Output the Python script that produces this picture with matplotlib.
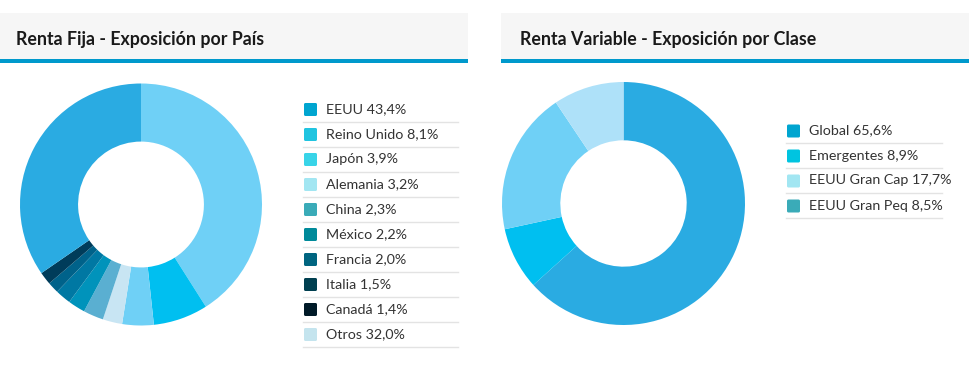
import matplotlib
matplotlib.use("Agg")
import matplotlib.pyplot as plt
from matplotlib.patches import Rectangle, FancyBboxPatch

plt.rcParams['font.family'] = ['Lato', 'DejaVu Sans']

# datos (leyenda)
pais_labels = ["EEUU", "Reino Unido", "Japón", "Alemania", "China",
               "México", "Francia", "Italia", "Canadá", "Otros"]
pais_values = [43.4, 8.1, 3.9, 3.2, 2.3, 2.2, 2.0, 1.5, 1.4, 32.0]
# porcentajes que dibuja el donut (leidos del grafico, no cuadran del todo con la leyenda)
pais_slices = [41.0, 7.3, 4.2, 2.6, 2.7, 2.3, 2.1, 1.5, 1.7, 34.6]
pais_pie_colors = ["#6fd0f6", "#00bff0", "#6fd0f6", "#c8e5f3", "#5aafd1",
                   "#0093bb", "#0078a3", "#00628a", "#003c5a", "#2aabe2"]
pais_leg_colors = ["#00a5d0", "#20c4e0", "#38d4e8", "#a2e6f2", "#3aabb8",
                   "#008a9a", "#006580", "#003f50", "#001a28", "#c4e4ee"]

clase_labels = ["Global", "Emergentes", "EEUU Gran Cap", "EEUU Gran Peq"]
clase_values = [65.6, 8.9, 17.7, 8.5]
clase_slices = [63.3, 8.3, 19.0, 9.4]
clase_pie_colors = ["#2aabe2", "#00bff0", "#6fd0f6", "#aee1f9"]
clase_leg_colors = ["#00a5d0", "#00c4e0", "#a2e6f2", "#3aabb8"]

W, H = 970, 385
fig = plt.figure(figsize=(W / 100, H / 100), dpi=100)
fig.patch.set_facecolor("white")

# capa de fondo en pixeles
bg = fig.add_axes([0, 0, 1, 1])
bg.set_xlim(0, W)
bg.set_ylim(H, 0)
bg.axis("off")


def fmt(v):
    return f"{v:.1f}".replace(".", ",") + "%"


def panel(x0, x1, tx, title):
    bg.add_patch(Rectangle((x0, 13), x1 - x0, 46, facecolor="#f6f6f6", edgecolor="none"))
    bg.add_patch(Rectangle((x0, 59), x1 - x0, 4, facecolor="#0099cc", edgecolor="none"))
    bg.text(tx, 39.5, title, fontsize=12.8, fontweight="bold", color="#1a1a1a",
            va="center", ha="left")


def donut(cx, cy, r, values, colors):
    ax = fig.add_axes([(cx - r) / W, (H - cy - r) / H, 2 * r / W, 2 * r / H])
    ax.pie(values, colors=colors, startangle=90, counterclock=False,
           wedgeprops=dict(width=0.48, edgecolor="none"))
    ax.set_xlim(-1, 1)
    ax.set_ylim(-1, 1)
    ax.set_aspect("equal")
    ax.axis("off")


def legend(x, y0, labels, values, colors, line_w):
    for i, (lab, val, col) in enumerate(zip(labels, values, colors)):
        yc = y0 + i * 25
        bg.add_patch(FancyBboxPatch((x + 1, yc - 6.5), 13, 13,
                                    boxstyle="round,pad=0,rounding_size=1.5",
                                    facecolor=col, edgecolor="none"))
        bg.text(x + 23, yc - 0.5, f"{lab} {fmt(val)}", fontsize=10.3, color="#333333",
                va="center", ha="left")
        bg.plot([x, x + line_w], [yc + 12, yc + 12], color="#e3e3e3", lw=1)


panel(0, 468, 16, "Renta Fija - Exposición por País")
panel(501, 970, 520, "Renta Variable - Exposición por Clase")

donut(141, 204.5, 121, pais_slices, pais_pie_colors)
donut(623.5, 203.5, 121.5, clase_slices, clase_pie_colors)

legend(303, 109.5, pais_labels, pais_values, pais_leg_colors, 155)
legend(786, 131, clase_labels, clase_values, clase_leg_colors, 156)

fig.savefig("out.png", dpi=100)
